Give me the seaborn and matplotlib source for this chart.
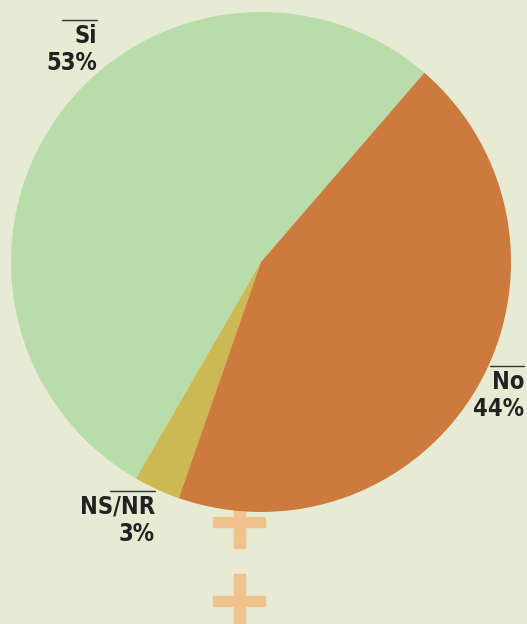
import matplotlib
matplotlib.use("Agg")
import matplotlib.pyplot as plt
from matplotlib.patches import Rectangle
import seaborn as sns

categories = ["Si", "NS/NR", "No"]
shares = [53, 3, 44]
colors = ["#b9dcab", "#cdb954", "#cd7a3f"]

BG = "#e8ebd3"
sns.set_theme(style="white")
plt.rcParams["font.family"] = ["DejaVu Sans"]

W, H = 527, 624
fig = plt.figure(figsize=(W / 100, H / 100), dpi=100, facecolor=BG)
ax = fig.add_axes([0, 0, 1, 1])
ax.set_facecolor(BG)

# cross of the venus sign below the circle
cross = "#f2c28c"
for top, bottom, bar in ((505, 548, 522), (574, 630, 601)):
    ax.add_patch(Rectangle((234, H - bottom), 11, bottom - top, color=cross, zorder=0))
    ax.add_patch(Rectangle((213, H - bar - 5), 52, 10, color=cross, zorder=0))

ax.pie(shares, colors=colors, startangle=49.2, counterclock=True,
       center=(261, H - 262), radius=250, frame=True,
       wedgeprops=dict(linewidth=0))

ax.set_xlim(0, W)
ax.set_ylim(0, H)
ax.set_aspect("equal")
ax.axis("off")

# label anchors: right edge x, rule y, rule length
anchors = {"Si": (97, 20, 35), "No": (524, 366, 34), "NS/NR": (155, 491, 45)}
for name, val in zip(categories, shares):
    x, y, rule = anchors[name]
    ax.plot([x - rule, x], [H - y, H - y], color="#333333", lw=1)
    for dy, s in ((16, name), (43, f"{val}%")):
        ax.text(x, H - y - dy, s, ha="right", va="center", fontsize=17,
                fontweight="bold", fontstretch="condensed", color="#222222")

fig.savefig("out.png", dpi=100, facecolor=BG)
